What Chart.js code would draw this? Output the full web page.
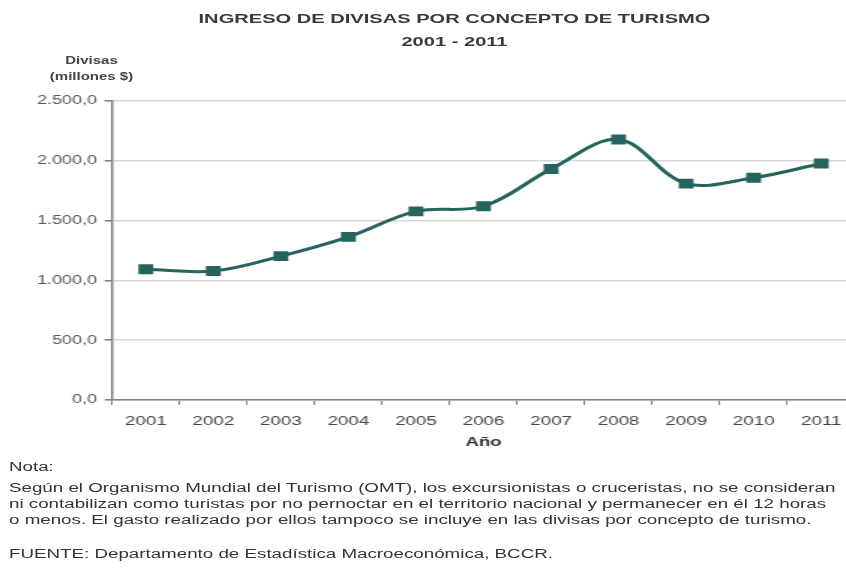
<!DOCTYPE html>
<html>
<head>
<meta charset="utf-8">
<script src="https://cdn.jsdelivr.net/npm/chart.js@4"></script>
<style>
    html, body { margin: 0; padding: 0; background: #fff; overflow: hidden; width: 846px; height: 569px; }
    /* the reference picture is stretched sideways, so the whole page is drawn narrow and widened */
    #page { position: absolute; left: 0; top: 0; width: 577px; height: 569px; transform: scaleX(1.5); transform-origin: 0 0; font-family: "Liberation Sans", Arial, sans-serif; color: #333; }
    .title { position: absolute; left: 0; width: 606px; text-align: center; font-weight: bold; font-size: 13.4px; color: #3a3a3a; }
    .ytitle { position: absolute; left: 31px; width: 60px; text-align: center; font-weight: bold; font-size: 10px; color: #444; }
    #chart-box { position: absolute; left: 0; top: 0; width: 577px; height: 470px; }
    .note { position: absolute; left: 6px; font-size: 12.5px; white-space: nowrap; color: #333; }
</style>
</head>
<body>
<div id="page">
    <div class="title" style="top:11px">INGRESO DE DIVISAS POR CONCEPTO DE TURISMO</div>
    <div class="title" style="top:34px">2001 - 2011</div>
    <div class="ytitle" style="top:55px">Divisas</div>
    <div class="ytitle" style="top:71px">(millones $)</div>
    <div id="chart-box"><canvas id="chart" width="577" height="470"></canvas></div>
    <div class="note" style="top:460px">Nota:</div>
    <div class="note" style="top:481px">Según el Organismo Mundial del Turismo (OMT), los excursionistas o cruceristas, no se consideran</div>
    <div class="note" style="top:497px">ni contabilizan como turistas por no pernoctar en el territorio nacional y permanecer en él 12 horas</div>
    <div class="note" style="top:513px">o menos. El gasto realizado por ellos tampoco se incluye en las divisas por concepto de turismo.</div>
    <div class="note" style="top:547px">FUENTE: Departamento de Estadística Macroeconómica, BCCR.</div>
</div>
<script>
"use strict";

// ---------- Data ----------

const YEARS = ["2001", "2002", "2003", "2004", "2005", "2006", "2007", "2008", "2009", "2010", "2011"];
const DIVISAS = [1093, 1078, 1203, 1364, 1577, 1620, 1932, 2178, 1809, 1858, 1977];
const Y_MAX = 2500;
const Y_STEP = 500;

const LINE_COLOR = "#25645e";

// 2.500,0 style numbers
function fmtNum(v) {
    const parts = Number(v).toFixed(1).split(".");
    const intPart = parts[0].replace(/\B(?=(\d{3})+(?!\d))/g, ".");
    return intPart + "," + parts[1];
}

new Chart(document.getElementById("chart"), {
    type: "line",
    data: {
        labels: YEARS,
        datasets: [{
            data: DIVISAS,
            borderColor: LINE_COLOR,
            backgroundColor: LINE_COLOR,
            borderWidth: 3,
            tension: 0.35,
            pointStyle: "rect",
            pointRadius: 7,
            pointBorderWidth: 0,
            pointBackgroundColor: LINE_COLOR,
        }],
    },
    options: {
        responsive: false,
        animation: false,
        layout: { padding: { top: 101, bottom: 16, left: 0, right: 0 } },
        plugins: {
            legend: { display: false },
            tooltip: { enabled: false },
        },
        scales: {
            x: {
                offset: true,
                afterFit: (s) => { s.height = 54; },
                border: { color: "#808080", width: 1.5 },
                grid: { drawOnChartArea: false, drawTicks: true, tickLength: 5, tickColor: "#808080", offset: true },
                ticks: { color: "#444", padding: 9, font: { family: "Liberation Sans", size: 12.5 } },
                title: {
                    display: true,
                    text: "Año",
                    color: "#333",
                    padding: { top: 0 },
                    font: { family: "Liberation Sans", size: 12.5, weight: "bold" },
                },
            },
            y: {
                min: 0,
                max: Y_MAX,
                afterFit: (s) => { s.width = 74.7; },
                border: { color: "#808080", width: 1.5 },
                grid: { color: "#d8d8d8", lineWidth: 1.6, tickLength: 5, tickColor: "#808080" },
                ticks: {
                    stepSize: Y_STEP,
                    color: "#555",
                    padding: 5,
                    font: { family: "Liberation Sans", size: 12 },
                    callback: (v) => fmtNum(v),
                },
            },
        },
    },
});
</script>
</body>
</html>
